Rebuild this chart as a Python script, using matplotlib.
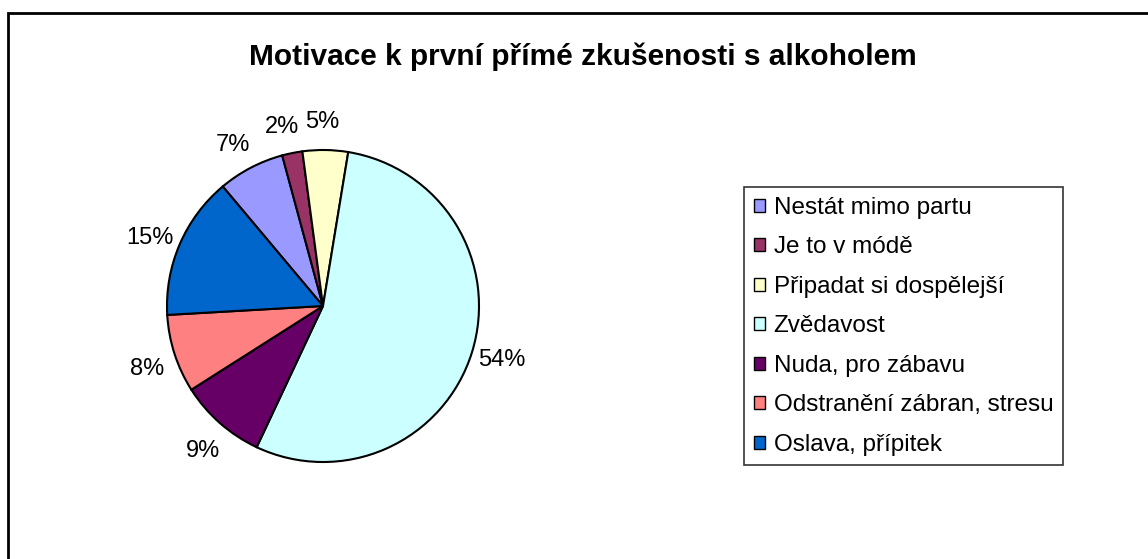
import numpy as np
import matplotlib.pyplot as plt
from matplotlib.patches import Patch, Rectangle

# data (percent)
kategorie = ['Nestát mimo partu', 'Je to v módě', 'Připadat si dospělejší', 'Zvědavost',
             'Nuda, pro zábavu', 'Odstranění zábran, stresu', 'Oslava, přípitek']
hodnoty = [6.9, 2.1, 4.7, 54.4, 9.0, 8.1, 14.8]
barvy = ['#9999FF', '#993366', '#FFFFCC', '#CCFFFF', '#660066', '#FF8080', '#0066CC']

plt.rcParams['font.family'] = ['Liberation Sans', 'DejaVu Sans']

W, H = 1148, 559
fig = plt.figure(figsize=(W / 100, H / 100), dpi=100)

# outer frame (only left and top visible)
fig.add_artist(Rectangle((7.5 / W, -0.1), 1.2, (H - 13) / H + 0.1, transform=fig.transFigure,
                         fill=False, edgecolor='black', linewidth=2))

cx, cy, r = 323, 306, 156
ax = fig.add_axes([(cx - r) / W, (H - cy - r) / H, 2 * r / W, 2 * r / H])
wedges, _ = ax.pie(hodnoty, colors=barvy, startangle=130, counterclock=False,
                   wedgeprops=dict(edgecolor='black', linewidth=1.5))

# percentage labels outside the pie
celkem = sum(hodnoty)
for w, v in zip(wedges, hodnoty):
    uhel = np.deg2rad((w.theta1 + w.theta2) / 2 + 1.2)
    ax.text(1.195 * np.cos(uhel), 1.195 * np.sin(uhel), '%.0f%%' % (100 * v / celkem),
            ha='center', va='center_baseline', fontsize=17)

ax.set_xlim(-1, 1)
ax.set_ylim(-1, 1)
ax.axis('off')

fig.text(583 / W, 1 - 57 / H, 'Motivace k první přímé zkušenosti s alkoholem',
         ha='center', va='center', fontsize=21.5, fontweight='bold')

handles = [Patch(facecolor=c, edgecolor='black', linewidth=1) for c in barvy]
leg = fig.legend(handles, kategorie, loc='upper left', bbox_to_anchor=(744 / W, 1 - 187 / H),
                 fontsize=17.5, frameon=True, fancybox=False, edgecolor='black',
                 handlelength=0.45, handleheight=0.45, handletextpad=0.37,
                 labelspacing=0.72, borderpad=0.4, borderaxespad=0)
leg.get_frame().set_linewidth(1.2)

plt.savefig('out.png', dpi=100)
